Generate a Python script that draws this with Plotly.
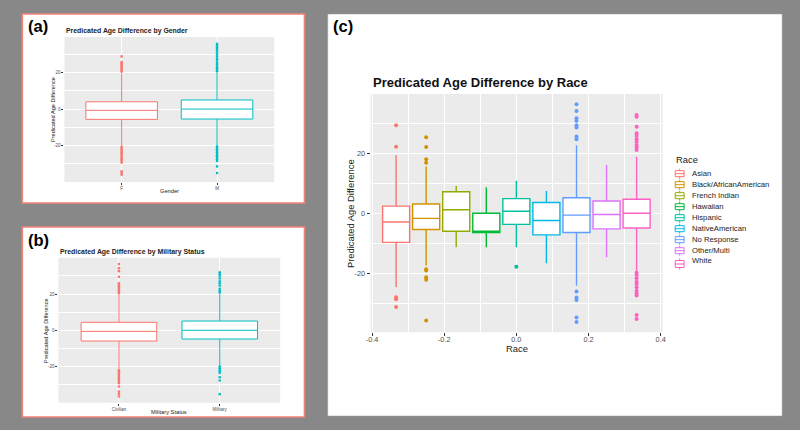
import plotly.graph_objects as go

W, H = 800, 430
FONT = "Liberation Sans"

# ---------------- data ----------------
# (a) by gender
gender_cats = ["F", "M"]
gender_q1 = [-5.7, -5.5]
gender_median = [-0.7, 0.0]
gender_q3 = [4.0, 5.0]
gender_low = [-20.2, -20.3]
gender_high = [19.5, 20.2]
gender_outliers = [
    [29.0, 25.9, 25.2, 24.4, 23.6, 22.8, 22.0, 21.3, 20.6,
     -20.8, -21.5, -22.3, -23.1, -23.9, -24.7, -25.6, -26.6, -27.6, -28.5, -29.5,
     -34.3, -35.3, -36.2],
    [36.0, 35.1, 34.0, 33.2, 32.3, 31.2, 30.0, 28.9, 27.7, 26.8, 25.5, 24.6, 23.4,
     22.5, 21.5, 20.8,
     -20.6, -21.4, -22.2, -23.0, -23.8, -24.6, -25.4, -26.2, -27.0, -27.8, -28.6,
     -31.6, -35.3],
]

# (b) by military status
mil_cats = ["Civilian", "Military"]
mil_q1 = [-5.9, -4.8]
mil_median = [-0.6, 0.0]
mil_q3 = [4.4, 5.1]
mil_low = [-21.5, -19.5]
mil_high = [20.0, 20.5]
mil_outliers = [
    [36.5, 34.2, 32.6, 29.5, 25.9, 25.0, 24.2, 23.3, 22.4, 21.5, 20.6,
     -22.0, -22.8, -23.7, -24.6, -25.5, -26.4, -27.3, -28.2, -29.2, -31.0,
     -33.8, -35.2, -36.5],
    [31.9, 31.0, 30.1, 28.6, 27.0, 25.9, 24.6, 22.8, 21.8, 21.0,
     -20.0, -20.9, -21.7, -22.6, -23.5, -25.9, -27.7, -35.2],
]

# (c) by race
race_cats = ["Asian", "Black/AfricanAmerican", "French Indian", "Hawaiian", "Hispanic",
             "NativeAmerican", "No Response", "Other/Multi", "White"]
race_pos = [-0.3333, -0.25, -0.1667, -0.0833, 0.0, 0.0833, 0.1667, 0.25, 0.3333]
race_q1 = [-9.7, -5.4, -6.0, -6.4, -3.7, -7.2, -6.4, -5.2, -4.9]
race_median = [-2.9, -1.7, 1.2, -6.0, 0.7, -2.4, -0.6, -0.4, 0.0]
race_q3 = [2.4, 3.1, 7.2, 0.0, 4.9, 3.6, 5.2, 4.1, 4.7]
race_low = [-24.7, -17.4, -11.3, -11.3, -11.3, -16.7, -24.2, -14.7, -19.6]
race_high = [19.4, 15.6, 9.1, 8.7, 10.9, 7.4, 22.7, 16.1, 18.9]
race_outliers = [
    [29.4, 22.2, -28.0, -28.7, -31.3],
    [25.4, 22.1, 18.0, 16.9, -18.7, -19.1, -21.3, -22.2, -35.8],
    [],
    [],
    [-17.8],
    [],
    [36.4, 34.1, 31.7, 30.9, 29.4, 28.6, 25.6, 24.7, -26.1, -28.1, -28.9, -34.8, -36.3],
    [],
    [32.8, 32.2, 28.9, 26.7, 25.8, 24.7, 23.9, 22.8, 22.0, 21.1,
     -19.8, -20.6, -21.7, -22.8, -23.6, -24.7, -25.8, -26.7, -27.4, -33.9, -35.3],
]
race_colors = ["#F8766D", "#D39200", "#93AA00", "#00BA38", "#00C19F",
               "#00B9E3", "#619CFF", "#DB72FB", "#FF61C3"]
two_colors = ["#F8766D", "#00BFC4"]

y_ticks = [-20, 0, 20]
y_ticktext = ["-20", "0", "20"]
y_minor = [-30, -10, 10, 30]
x3_ticks = [-0.4, -0.2, 0.0, 0.2, 0.4]
x3_ticktext = ["-0.4", "-0.2", "0.0", "0.2", "0.4"]
x3_minor = [-0.3, -0.1, 0.1, 0.3]


def px(x):
    return x / W


def py(y):
    return 1 - y / H


fig = go.Figure()

# ---------------- boxes ----------------
def add_cat_boxes(cats, q1, med, q3, lo, hi, outl, xa, ya, lw, msize):
    for i, c in enumerate(cats):
        col = two_colors[i]
        fig.add_trace(go.Box(
            x=[c], q1=[q1[i]], median=[med[i]], q3=[q3[i]],
            lowerfence=[lo[i]], upperfence=[hi[i]], width=0.75,
            fillcolor="white", line=dict(color=col, width=lw), whiskerwidth=0,
            boxpoints=False, xaxis=xa, yaxis=ya, showlegend=False, hoverinfo="skip"))
        fig.add_trace(go.Scatter(
            x=[c] * len(outl[i]), y=outl[i], mode="markers",
            marker=dict(color=col, size=msize, line=dict(width=0)),
            xaxis=xa, yaxis=ya, showlegend=False, hoverinfo="skip"))


add_cat_boxes(gender_cats, gender_q1, gender_median, gender_q3, gender_low, gender_high,
              gender_outliers, "x", "y", 1, 2.6)
add_cat_boxes(mil_cats, mil_q1, mil_median, mil_q3, mil_low, mil_high,
              mil_outliers, "x2", "y2", 1, 2.6)

for i, c in enumerate(race_cats):
    col = race_colors[i]
    fig.add_trace(go.Box(
        x=[race_pos[i]], q1=[race_q1[i]], median=[race_median[i]], q3=[race_q3[i]],
        lowerfence=[race_low[i]], upperfence=[race_high[i]], width=0.075,
        fillcolor="white", line=dict(color=col, width=1.4), whiskerwidth=0,
        boxpoints=False, xaxis="x3", yaxis="y3", name=c, showlegend=False,
        hoverinfo="skip"))
    if race_outliers[i]:
        fig.add_trace(go.Scatter(
            x=[race_pos[i]] * len(race_outliers[i]), y=race_outliers[i], mode="markers",
            marker=dict(color=col, size=4, line=dict(width=0)),
            xaxis="x3", yaxis="y3", showlegend=False, hoverinfo="skip"))

# ---------------- axes ----------------
def yax(domain, rng, fs, gw, mgw):
    return dict(domain=domain, range=rng, tickvals=y_ticks, ticktext=y_ticktext,
                showgrid=True, gridcolor="white", gridwidth=gw, zeroline=False,
                ticks="outside", ticklen=2, tickwidth=0.6, tickcolor="#333333",
                tickfont=dict(family=FONT, size=fs, color="#4D4D4D"),
                minor=dict(tickvals=y_minor, showgrid=True, gridcolor="white",
                           gridwidth=mgw, ticks=""),
                showline=False, fixedrange=True)


def xcat(domain, cats, fs, gw, anchor):
    return dict(domain=domain, type="category", categoryorder="array",
                categoryarray=cats, range=[-0.6, 1.6], anchor=anchor,
                showgrid=True, gridcolor="white", gridwidth=gw, zeroline=False,
                ticks="outside", ticklen=2, tickwidth=0.6, tickcolor="#333333",
                ticklabelstandoff=0,
                tickfont=dict(family=FONT, size=fs, color="#4D4D4D"),
                showline=False, fixedrange=True)


layout = dict(
    width=W, height=H, margin=dict(l=0, r=0, t=0, b=0),
    paper_bgcolor="#888888", plot_bgcolor="rgba(0,0,0,0)",
    boxmode="overlay", showlegend=False,
    font=dict(family=FONT),
    xaxis=xcat([px(60), px(272)], gender_cats, 4.5, 0.7, "y"),
    yaxis=yax([py(182), py(37)], [-40.2, 39.7], 4.5, 0.7, 0.4),
    xaxis2=xcat([px(54), px(278)], mil_cats, 4.5, 0.7, "y2"),
    yaxis2=dict(yax([py(402.7), py(257.7)], [-39.9, 40.0], 4.5, 0.7, 0.4), anchor="x2"),
    xaxis3=dict(domain=[px(369.3), px(664.3)], range=[-0.404, 0.4055], anchor="y3",
                tickvals=x3_ticks, ticktext=x3_ticktext,
                showgrid=True, gridcolor="white", gridwidth=1.1, zeroline=False,
                ticks="outside", ticklen=3, tickwidth=0.8, tickcolor="#333333",
                ticklabelstandoff=-3,
                tickfont=dict(family=FONT, size=7.3, color="#4D4D4D"),
                minor=dict(tickvals=x3_minor, showgrid=True, gridcolor="white",
                           gridwidth=0.55, ticks=""),
                fixedrange=True),
    yaxis3=dict(yax([py(332.3), py(94)], [-39.7, 39.8], 7.3, 1.1, 0.55),
                anchor="x3", ticklen=3, tickwidth=0.8),
)
layout["xaxis"]["anchor"] = "y"
layout["yaxis"]["anchor"] = "x"

shapes = []
# panel backgrounds
shapes.append(dict(type="rect", xref="paper", yref="paper", layer="below",
                   x0=px(17.5), x1=px(302.5), y0=py(203), y1=py(14),
                   fillcolor="white", line=dict(color="#F08378", width=1.6)))
shapes.append(dict(type="rect", xref="paper", yref="paper", layer="below",
                   x0=px(17.5), x1=px(302.5), y0=py(417), y1=py(227),
                   fillcolor="white", line=dict(color="#F08378", width=1.6)))
shapes.append(dict(type="rect", xref="paper", yref="paper", layer="below",
                   x0=px(326), x1=px(785), y0=py(416), y1=py(14),
                   fillcolor="white", line=dict(color="#9a9a9a", width=0.5)))
# plot-area gray backgrounds
for xr, yr in [("x", "y"), ("x2", "y2"), ("x3", "y3")]:
    shapes.append(dict(type="rect", xref=xr + " domain", yref=yr + " domain", layer="below",
                       x0=0, x1=1, y0=0, y1=1, fillcolor="#EBEBEB", line=dict(width=0)))

# legend keys for (c)
leg_text_y = [173.7 + 11 * i for i in range(8)] + [260.5]
leg_key_y = [173.7 + 11 * i for i in range(8)] + [264]
for i, col in enumerate(race_colors):
    cy = leg_key_y[i]
    h = 3.0 if i < 8 else 3.5
    shapes.append(dict(type="rect", xref="paper", yref="paper", layer="above",
                       x0=px(677), x1=px(686), y0=py(cy + h), y1=py(cy - h),
                       fillcolor="white", line=dict(color=col, width=1)))
    shapes.append(dict(type="line", xref="paper", yref="paper", layer="above",
                       x0=px(677), x1=px(686), y0=py(cy), y1=py(cy),
                       line=dict(color=col, width=1)))
    shapes.append(dict(type="line", xref="paper", yref="paper", layer="above",
                       x0=px(681.5), x1=px(681.5), y0=py(cy - h), y1=py(cy - h - 2),
                       line=dict(color=col, width=1)))
    shapes.append(dict(type="line", xref="paper", yref="paper", layer="above",
                       x0=px(681.5), x1=px(681.5), y0=py(cy + h), y1=py(cy + h + 2),
                       line=dict(color=col, width=1)))
layout["shapes"] = shapes

ann = []


def text(t, x, y, size, bold=False, color="black", xanchor="left", angle=0):
    ann.append(dict(text=("<b>%s</b>" % t) if bold else t, x=px(x), y=py(y),
                    xref="paper", yref="paper", xanchor=xanchor, yanchor="middle",
                    showarrow=False, textangle=angle,
                    font=dict(family=FONT, size=size, color=color)))


text("(a)", 21.5, 26.5, 16.5, bold=True)
text("(b)", 21.5, 240, 16.5, bold=True)
text("(c)", 329.5, 26, 16.5, bold=True)
text("Predicated Age Difference by Gender", 60, 31.3, 6.9, bold=True, color="#222222")
text("Predicated Age Difference by Military Status", 54, 251.7, 6.9, bold=True, color="#222222")
text("Predicated Age Difference by Race", 369.3, 82.7, 13, bold=True, color="#111111")
text("Predicated Age Difference", 48, 109.5, 5.6, xanchor="center", angle=-90, color="#222222")
text("Gender", 166, 190.8, 5.7, xanchor="center", color="#222222")
text("Predicated Age Difference", 41.7, 331, 5.6, xanchor="center", angle=-90, color="#222222")
text("Military Status", 166, 412.2, 5.7, xanchor="center", color="#222222")
text("Predicated Age Difference", 348.3, 213.3, 9.4, xanchor="center", angle=-90, color="#222222")
text("Race", 516.7, 348.5, 9.4, xanchor="center", color="#222222")
text("Race", 675.7, 159.3, 9.4, color="#222222")
for i, c in enumerate(race_cats):
    text(c, 691.5, leg_text_y[i], 7.7, color="#222222")
layout["annotations"] = ann

fig.update_layout(**layout)
fig.write_html(
    "out.html",
    config={"displayModeBar": False},
    post_script="document.body.style.margin='0';document.body.style.padding='0';"
                "document.documentElement.style.overflow='hidden';",
)
